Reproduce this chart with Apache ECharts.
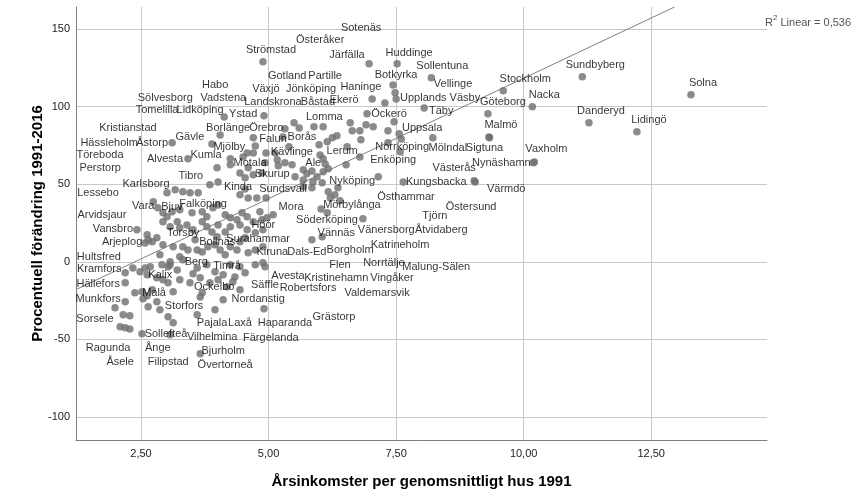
<!DOCTYPE html>
<html><head><meta charset="utf-8">
<script src="https://cdn.jsdelivr.net/npm/echarts@6/dist/echarts.min.js"></script>
<style>html,body{margin:0;padding:0;background:#fff}#c{width:854px;height:504px}</style>
</head><body><div id="c"></div>
<script>
// ---- data ----
const labeledNames = ['Solna','Lidingö','Danderyd','Sundbyberg','Stockholm','Nacka','Göteborg','Malmö','Sigtuna','Vaxholm','Nynäshamn','Västerås','Värmdö','Mölndal','Sollentuna','Täby','Huddinge','Sotenäs','Botkyrka','Vellinge','Upplands Väsby','Haninge','Ekerö','Öckerö','Järfälla','Österåker','Partille','Gotland','Jönköping','Båstad','Lomma','Växjö','Landskrona','Strömstad','Ystad','Borlänge','Örebro','Vadstena','Habo','Lidköping','Sölvesborg','Tomelilla','Kristianstad','Hässleholm','Töreboda','Perstorp','Gävle','Åstorp','Alvesta','Mjölby','Kumla','Falun','Borås','Kävlinge','Motala','Skurup','Ale','Lerum','Norrköping','Uppsala','Enköping','Nyköping','Kungsbacka','Söderköping','Östhammar','Mörbylånga','Östersund','Tjörn','Vänersborg','Åtvidaberg','Vännäs','Katrineholm','Borgholm','Dals-Ed','Kiruna','Surahammar','Höör','Mora','Sundsvall','Kinda','Tibro','Karlsborg','Falköping','Bjuv','Vara','Arvidsjaur','Lessebo','Torsby','Bollnäs','Berg','Timrå','Kalix','Malå','Ockelbo','Avesta','Säffle','Robertsfors','Kristinehamn','Flen','Norrtälje','Malung-Sälen','Vingåker','Valdemarsvik','Grästorp','Nordanstig','Haparanda','Pajala','Laxå','Färgelanda','Vilhelmina','Storfors','Sollefteå','Bjurholm','Övertorneå','Ånge','Filipstad','Ragunda','Åsele','Sorsele','Munkfors','Hällefors','Kramfors','Hultsfred','Arjeplog','Vansbro'];
const labeledX = [13.28,12.22,11.28,11.15,9.60,10.17,9.30,9.32,9.33,10.21,10.19,9.03,9.05,8.22,8.19,8.05,7.52,6.97,7.44,7.48,7.50,7.28,7.03,6.93,6.91,6.60,6.07,5.60,5.50,5.89,6.25,5.32,4.91,4.89,4.13,4.05,4.70,4.74,4.58,4.50,4.25,4.01,3.85,3.62,3.46,3.17,3.89,3.11,3.42,4.25,3.99,4.95,5.40,5.32,4.44,4.70,5.68,6.11,7.60,7.56,7.58,7.15,7.64,6.85,6.40,6.30,6.52,6.79,6.21,6.17,6.15,6.03,6.05,5.85,4.74,4.60,4.74,5.09,4.95,4.44,3.32,3.01,3.50,2.93,2.74,2.83,2.93,3.13,3.70,3.21,3.95,2.72,2.54,3.70,4.93,4.44,4.54,4.74,4.89,4.89,4.70,4.87,4.97,4.89,4.11,4.91,3.60,3.95,4.30,3.13,3.03,2.52,3.66,3.07,2.28,2.19,2.09,2.15,1.99,2.19,2.19,2.19,2.34,2.58,2.42];
const labeledY = [107.6,83.8,89.6,119.2,110.2,99.9,95.4,80.5,79.9,64.4,63.8,52.2,51.5,79.9,118.6,99.2,127.6,127.6,114.0,108.9,105.0,102.4,105.0,95.4,88.3,89.6,87.0,86.3,89.6,87.0,79.9,85.7,94.1,128.9,93.4,81.8,79.9,74.7,70.2,67.6,62.5,51.5,49.6,44.5,44.5,46.4,76.0,76.7,66.4,66.4,60.6,70.2,74.1,63.8,57.3,56.1,59.3,63.1,79.2,82.5,70.9,54.8,51.5,27.7,39.3,43.2,62.5,67.6,41.2,45.1,31.6,34.1,16.1,14.2,7.7,5.8,18.7,30.3,41.2,43.2,45.1,44.5,31.6,31.6,38.7,34.8,25.8,9.7,6.4,-5.2,-6.4,-18.0,-23.8,-20.0,-3.2,-18.0,-7.1,-1.9,9.7,20.6,25.8,27.1,28.4,-0.6,-24.5,-30.3,-34.1,-30.9,-12.9,-39.3,-35.4,-46.4,-59.3,-47.0,-43.2,-42.5,-41.9,-34.1,-29.6,-25.8,-13.5,-7.1,-3.9,12.2,20.6];
const otherX = [5.28,4.70,5.13,5.99,6.15,6.34,6.01,6.07,5.17,5.19,5.46,5.75,5.85,5.95,6.07,6.17,6.05,5.87,5.68,5.52,4.54,4.60,4.77,4.54,5.68,5.85,6.36,6.64,6.79,7.05,7.34,7.46,6.81,6.54,7.34,4.60,4.87,4.93,3.01,3.11,3.26,3.70,3.79,3.91,4.01,4.15,4.25,4.38,4.48,4.58,4.83,3.07,3.21,3.26,3.40,3.52,3.70,3.79,3.89,3.99,4.01,4.15,4.25,4.44,4.58,4.54,2.64,2.81,2.93,3.32,3.42,3.56,3.60,3.81,3.95,4.05,4.15,4.25,4.38,4.44,2.48,2.68,2.91,3.07,3.32,3.60,3.79,4.11,4.25,4.44,3.26,3.46,3.66,3.85,4.01,4.19,2.62,2.72,2.87,3.07,3.26,3.03,2.58,2.62,2.81,2.93,3.03,2.38,2.52,2.62,2.81,2.64,2.87,2.28,3.52,4.34,3.13,3.66];
const otherY = [80.5,70.2,70.2,75.4,77.3,81.2,68.9,66.4,65.7,61.9,62.5,56.7,58.6,54.8,58.0,59.9,50.9,51.5,52.8,54.8,54.1,41.2,41.2,47.0,48.3,47.7,47.7,84.4,84.4,87.0,84.4,90.2,78.6,74.1,76.7,60.6,57.3,63.8,29.0,32.2,33.5,32.2,29.0,34.8,36.7,30.3,28.4,27.1,31.6,29.0,32.2,22.6,25.8,21.9,23.8,20.6,25.8,22.6,19.3,16.1,23.8,19.3,22.6,23.8,20.6,15.5,14.2,15.5,11.0,9.7,7.7,14.2,7.7,9.7,11.0,7.7,4.5,9.7,7.7,12.9,-6.4,-3.2,-1.9,-1.9,1.3,-3.9,-1.9,-8.4,-1.9,-3.2,-11.6,-13.5,-10.3,-13.5,-11.6,-16.1,17.4,12.9,4.5,0.0,3.2,-3.2,-3.9,-8.4,-10.3,-11.6,-13.5,-20.0,-19.3,-21.9,-25.8,-29.0,-30.9,-34.8,-7.7,-9.7,-19.3,-22.6];
const xTicks = [2.5, 5, 7.5, 10, 12.5];
const yTicks = [-100, -50, 0, 50, 100, 150];
const fitIntercept = -36.9;
const fitSlope = 15.52;
const fitR2 = '0,536';
const xTitle = 'Årsinkomster per genomsnittligt hus 1991';
const yTitle = 'Procentuell förändring 1991-2016';

// ---- layout: label offsets in px (label centre relative to point centre) ----
const defaultOffset = [12, -12];
const labelOffsets = {'Sundbyberg':[13,-12],'Stockholm':[22,-12],'Göteborg':[15,-12],'Sigtuna':[-5,10],'Vaxholm':[12,-13],'Nynäshamn':[-32,0],'Västerås':[-20,-13],'Värmdö':[31,7],'Mölndal':[15,10],'Sollentuna':[11,-12],'Täby':[17,3],'Huddinge':[12,-11],'Sotenäs':[-8,-36],'Botkyrka':[3,-10],'Vellinge':[58,-9],'Upplands Väsby':[44,-1],'Haninge':[-24,-16],'Ekerö':[-28,1],'Öckerö':[22,0],'Järfälla':[-19,-70],'Österåker':[-30,-83],'Partille':[2,-51],'Gotland':[-12,-52],'Jönköping':[17,-34],'Båstad':[4,-25],'Lomma':[-8,-21],'Växjö':[-19,-40],'Landskrona':[9,-14],'Strömstad':[8,-12],'Ystad':[19,-3],'Borlänge':[8,-7],'Örebro':[13,-10],'Vadstena':[-32,-48],'Habo':[-32,-68],'Lidköping':[-43,-47],'Sölvesborg':[-65,-67],'Tomelilla':[-61,-72],'Kristianstad':[-82,-57],'Hässleholm':[-89,-50],'Töreboda':[-90,-38],'Perstorp':[-75,-22],'Gävle':[-22,-7],'Åstorp':[-20,0],'Alvesta':[-23,0],'Mjölby':[-1,-12],'Kumla':[-11,-13],'Falun':[7,-14],'Borås':[13,-10],'Kävlinge':[7,-11],'Motala':[10,-10],'Skurup':[19,-1],'Ale':[10,-7],'Lerum':[17,-13],'Norrköping':[1,8],'Uppsala':[23,-6],'Enköping':[-7,8],'Nyköping':[-26,4],'Kungsbacka':[33,0],'Söderköping':[-36,1],'Östhammar':[66,-4],'Mörbylånga':[17,10],'Östersund':[125,42],'Tjörn':[75,59],'Vänersborg':[56,32],'Åtvidaberg':[113,38],'Vännäs':[9,20],'Katrineholm':[79,36],'Borgholm':[28,13],'Dals-Ed':[-5,12],'Kiruna':[17,2],'Surahammar':[10,-14],'Höör':[8,-8],'Mora':[18,-8],'Sundsvall':[17,-9],'Kinda':[-2,-8],'Tibro':[8,-16],'Karlsborg':[-21,-9],'Falköping':[11,-9],'Bjuv':[9,-6],'Vara':[-10,4],'Arvidsjaur':[-56,7],'Lessebo':[-65,-29],'Torsby':[10,-14],'Bollnäs':[15,-10],'Berg':[19,-8],'Timrå':[12,-6],'Kalix':[8,-15],'Malå':[11,-6],'Ockelbo':[12,-6],'Avesta':[23,9],'Säffle':[25,-5],'Robertsfors':[63,15],'Kristinehamn':[81,13],'Flen':[77,18],'Norrtälje':[121,33],'Malung-Sälen':[183,45],'Vingåker':[130,58],'Valdemarsvik':[110,75],'Grästorp':[71,54],'Nordanstig':[35,-1],'Haparanda':[21,14],'Pajala':[15,8],'Laxå':[25,13],'Färgelanda':[38,56],'Vilhelmina':[39,14],'Storfors':[16,-11],'Sollefteå':[24,0],'Bjurholm':[23,-3],'Övertorneå':[55,30],'Ånge':[28,19],'Filipstad':[43,34],'Ragunda':[-12,21],'Åsele':[-3,47],'Sorsele':[-20,11],'Munkfors':[-27,-3],'Hällefors':[-27,1],'Kramfors':[-26,-4],'Hultsfred':[-34,-11],'Arjeplog':[-23,-1],'Vansbro':[-24,-1]};

const X_MIN = 1.2255, X_MAX = 14.77, Y_MIN = -114.8, Y_MAX = 164.2;
const FONT = 'Liberation Sans, Arial, sans-serif';

const labeledData = labeledNames.map((n, i) => ({ name: n, value: [labeledX[i], labeledY[i]] }));
const otherData = otherX.map((x, i) => [x, otherY[i]]);

const fx0 = X_MIN, fy0 = fitIntercept + fitSlope * fx0;
const fx1 = (Y_MAX - fitIntercept) / fitSlope, fy1 = Y_MAX;

const chart = echarts.init(document.getElementById('c'), null, { renderer: 'canvas' });
chart.setOption({
  animation: false,
  backgroundColor: '#fff',
  title: {
    text: '{a|R}{s|2}{a| Linear = ' + fitR2 + '}',
    left: 760, top: 9,
    textStyle: { fontWeight: 'normal', rich: {
      a: { fontFamily: FONT, fontSize: 11, fontWeight: 'normal', color: '#555', verticalAlign: 'bottom', lineHeight: 14 },
      s: { fontFamily: FONT, fontSize: 8, fontWeight: 'normal', color: '#555', verticalAlign: 'top', lineHeight: 14 }
    } }
  },
  grid: { left: 76, right: 87, top: 7, bottom: 64, containLabel: false },
  xAxis: {
    type: 'value', min: X_MIN, max: X_MAX,
    name: xTitle, nameLocation: 'middle', nameGap: 34, nameMoveOverlap: false,
    nameTextStyle: { fontFamily: FONT, fontSize: 15, fontWeight: 'bold', color: '#000' },
    axisLine: { show: true, onZero: false, lineStyle: { color: '#7f7f7f', width: 1 } },
    axisTick: { show: false, customValues: xTicks },
    axisLabel: { customValues: xTicks, margin: 8, fontFamily: FONT, fontSize: 11, color: '#222',
      formatter: v => v.toFixed(2).replace('.', ',') },
    splitLine: { show: true, lineStyle: { color: '#c8c8c8', width: 1 } }
  },
  yAxis: {
    type: 'value', min: Y_MIN, max: Y_MAX,
    name: yTitle, nameLocation: 'middle', nameGap: 31, nameRotate: 90, nameMoveOverlap: false,
    nameTextStyle: { fontFamily: FONT, fontSize: 15, fontWeight: 'bold', color: '#000' },
    axisLine: { show: true, onZero: false, lineStyle: { color: '#7f7f7f', width: 1 } },
    axisTick: { show: false, customValues: yTicks },
    axisLabel: { customValues: yTicks, margin: 6, fontFamily: FONT, fontSize: 11, color: '#222',
      formatter: v => String(Math.round(v)) },
    splitLine: { show: true, lineStyle: { color: '#c8c8c8', width: 1 } }
  },
  series: [
    {
      type: 'line', data: [[fx0, fy0], [fx1, fy1]], symbol: 'none', silent: true, clip: true,
      lineStyle: { color: '#808080', width: 1 }, z: 1
    },
    {
      type: 'scatter', data: otherData, symbolSize: 7.5, silent: true,
      itemStyle: { color: '#6e6e6e' }, z: 2
    },
    {
      type: 'scatter', data: labeledData, symbolSize: 7.5, silent: true,
      itemStyle: { color: '#6e6e6e' }, z: 3,
      label: { show: true, position: 'inside', align: 'center', verticalAlign: 'middle',
        formatter: p => p.name, fontFamily: FONT, fontSize: 11, color: '#000' },
      labelLayout: function (params) {
        const n = labeledNames[params.dataIndex];
        const off = labelOffsets[n] || defaultOffset;
        return { dx: off[0], dy: off[1], hideOverlap: false };
      }
    }
  ]
});
</script></body></html>
